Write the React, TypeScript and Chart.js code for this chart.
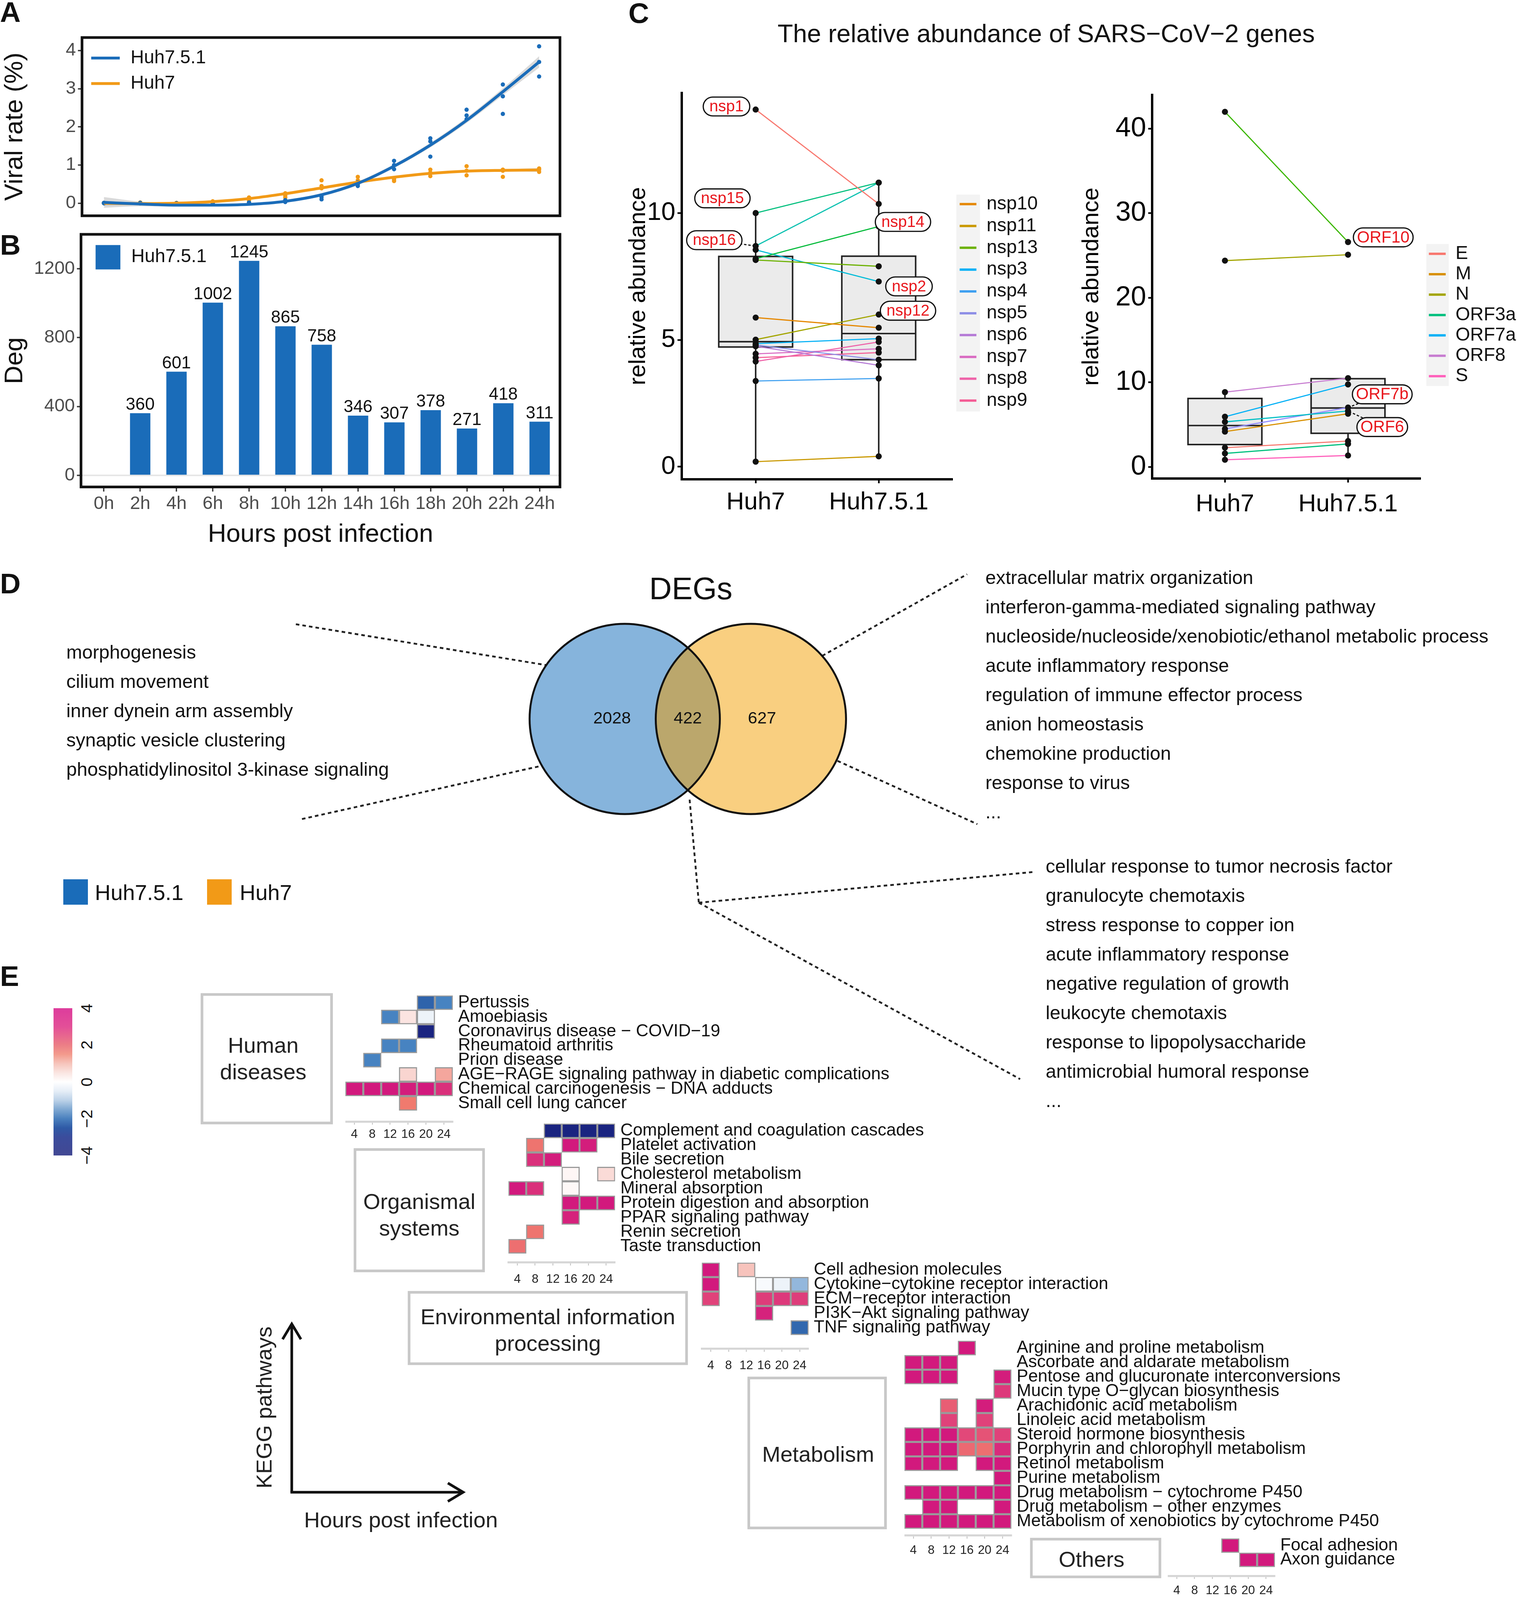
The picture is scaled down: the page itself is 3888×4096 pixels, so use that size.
import React, { useEffect, useRef } from 'react';
import { Chart, registerables } from 'chart.js';

Chart.register(...registerables);

const S = 3888 / 1489;
const d = (v: number) => v * S;
const FONT = "'Liberation Sans', Arial, Helvetica, sans-serif";
Chart.defaults.font.family = FONT;
Chart.defaults.color = '#111';

const BLUE = '#1a6cb9';
const ORANGE = '#f29a17';

// ================= Panel A data =================
const hours = [0, 2, 4, 6, 8, 10, 12, 14, 16, 18, 20, 22, 24];
const huh751Rep1 = [0.0, 0.0, 0.0, 0.0, 0.01, 0.03, 0.1, 0.45, 0.89, 1.22, 2.2, 2.34, 3.32];
const huh751Rep2 = [0.01, 0.0, 0.0, 0.0, 0.02, 0.05, 0.16, 0.5, 1.0, 1.62, 2.3, 2.8, 3.7];
const huh751Rep3 = [0.0, 0.01, 0.0, 0.01, 0.0, 0.08, 0.2, 0.55, 1.11, 1.7, 2.45, 3.11, 4.11];
const huh7Rep1 = [0.0, 0.0, 0.0, 0.03, 0.07, 0.15, 0.39, 0.5, 0.58, 0.71, 0.73, 0.69, 0.82];
const huh7Rep2 = [0.0, 0.02, 0.01, 0.02, 0.15, 0.26, 0.6, 0.69, 0.65, 0.8, 0.97, 0.88, 0.88];
const huh7Rep3 = [0.01, 0.0, 0.0, 0.05, 0.1, 0.2, 0.45, 0.6, 0.62, 0.88, 0.85, 0.85, 0.91];
const huh751Fit = [0.02, -0.02, -0.05, -0.05, -0.03, 0.05, 0.22, 0.52, 0.97, 1.52, 2.17, 2.92, 3.7];
const huh751Lo = [-0.12, -0.08, -0.09, -0.08, -0.06, 0.02, 0.18, 0.47, 0.92, 1.46, 2.1, 2.83, 3.55];
const huh751Hi = [0.16, 0.04, -0.01, -0.02, 0.0, 0.08, 0.26, 0.57, 1.02, 1.58, 2.24, 3.01, 3.85];
const huh7Fit = [0.0, -0.01, 0.0, 0.04, 0.12, 0.25, 0.4, 0.55, 0.68, 0.78, 0.84, 0.86, 0.87];
const huh7Lo = [-0.06, -0.04, -0.03, 0.01, 0.09, 0.22, 0.37, 0.52, 0.65, 0.75, 0.81, 0.83, 0.82];
const huh7Hi = [0.06, 0.02, 0.03, 0.07, 0.15, 0.28, 0.43, 0.58, 0.71, 0.81, 0.87, 0.89, 0.92];
const viralTicks = [0, 1, 2, 3, 4];

// ================= Panel B data =================
const degHours = ['0h', '2h', '4h', '6h', '8h', '10h', '12h', '14h', '16h', '18h', '20h', '22h', '24h'];
const degValues = [null, 360, 601, 1002, 1245, 865, 758, 346, 307, 378, 271, 418, 311];
const degTicks = [0, 400, 800, 1200];

// ================= Panel C data =================
const cGroups = ['Huh7', 'Huh7.5.1'];
const nspGenes = ['nsp1', 'nsp10', 'nsp11', 'nsp12', 'nsp13', 'nsp14', 'nsp15', 'nsp16', 'nsp2', 'nsp3', 'nsp4', 'nsp5', 'nsp6', 'nsp7', 'nsp8', 'nsp9'];
const nspHuh7 = [14.08, 5.88, 0.2, 5.01, 8.15, 8.2, 10.0, 8.7, 8.55, 4.85, 3.38, 4.8, 4.75, 4.45, 4.15, 4.3];
const nspHuh751 = [10.36, 5.48, 0.41, 6.0, 7.9, 9.47, 11.2, 11.2, 7.3, 5.05, 3.48, 4.22, 4.0, 4.65, 4.92, 4.5];
const nspColors = ['#F8766D', '#E58700', '#C99800', '#A3A500', '#6BB100', '#00BA38', '#00BF7D', '#00C0AF', '#00BCD8', '#00B0F6', '#3FA0F0', '#8E8FE6', '#B57AD6', '#D96BC2', '#EE62A8', '#F45C95'];
const nspLegend = ['nsp10', 'nsp11', 'nsp13', 'nsp3', 'nsp4', 'nsp5', 'nsp6', 'nsp7', 'nsp8', 'nsp9'];
const nspBoxLower = [0.2, 0.41];
const nspBoxQ1 = [4.72, 4.22];
const nspBoxMedian = [4.93, 5.25];
const nspBoxQ3 = [8.29, 8.3];
const nspBoxUpper = [10.0, 11.2];
const nspTicks = [0, 5, 10];
const nspLabelNames = ['nsp1', 'nsp15', 'nsp16', 'nsp14', 'nsp2', 'nsp12'];
const nspLabelX = [-0.237, -0.27, -0.336, 1.197, 1.246, 1.238];
const nspLabelY = [14.2, 10.58, 8.93, 9.65, 7.11, 6.15];
const nspLabelSeg = [false, false, true, false, false, false];

const orfGenes = ['E', 'M', 'N', 'ORF10', 'ORF3a', 'ORF6', 'ORF7a', 'ORF7b', 'ORF8', 'S'];
const orfHuh7 = [2.28, 4.18, 24.4, 42.0, 1.6, 5.33, 5.94, 4.5, 8.85, 0.85];
const orfHuh751 = [3.06, 6.29, 25.1, 26.6, 2.72, 6.62, 9.76, 7.03, 10.5, 1.36];
const orfColors = ['#F8766D', '#D89000', '#A3A500', '#39B600', '#00BF7D', '#00BFC4', '#00B0F6', '#9590FF', '#C77CD0', '#FF62BC'];
const orfLegend = ['E', 'M', 'N', 'ORF3a', 'ORF7a', 'ORF8', 'S'];
const orfBoxLower = [0.85, 1.36];
const orfBoxQ1 = [2.65, 3.98];
const orfBoxMedian = [4.9, 6.97];
const orfBoxQ3 = [8.1, 10.44];
const orfBoxUpper = [8.85, 10.5];
const orfTicks = [0, 10, 20, 30, 40];
const orfLabelNames = ['ORF10', 'ORF7b', 'ORF6'];
const orfLabelX = [1.286, 1.278, 1.278];
const orfLabelY = [27.15, 8.59, 4.72];
const orfLabelSeg = [false, true, true];

// ================= Panel D data =================
const vennSets = ['Huh7.5.1', 'Huh7'];
const vennCounts = [2028, 422, 627];
const goHuh751 = ['morphogenesis', 'cilium movement', 'inner dynein arm assembly', 'synaptic vesicle clustering', 'phosphatidylinositol 3-kinase signaling'];
const goHuh7 = ['extracellular matrix organization', 'interferon-gamma-mediated signaling pathway', 'nucleoside/nucleoside/xenobiotic/ethanol metabolic process', 'acute inflammatory response', 'regulation of immune effector process', 'anion homeostasis', 'chemokine production', 'response to virus', '...'];
const goShared = ['cellular response to tumor necrosis factor', 'granulocyte chemotaxis', 'stress response to copper ion', 'acute inflammatory response', 'negative regulation of growth', 'leukocyte chemotaxis', 'response to lipopolysaccharide', 'antimicrobial humoral response', '...'];

// ================= Panel E data =================
const heatTimes = ['4', '8', '12', '16', '20', '24'];
const humanRows = ['Pertussis', 'Amoebiasis', 'Coronavirus disease \u2212 COVID\u221219', 'Rheumatoid arthritis', 'Prion disease', 'AGE\u2212RAGE signaling pathway in diabetic complications', 'Chemical carcinogenesis \u2212 DNA adducts', 'Small cell lung cancer'];
const humanValues = [
  [null, null, null, null, -2.8, -2.1],
  [null, null, -2.1, 0.45, -0.3, null],
  [null, null, null, null, -4.2, null],
  [null, null, -2.1, -2.1, null, null],
  [null, -2.1, null, null, null, null],
  [null, null, null, 0.7, null, 1.4],
  [3.9, 3.9, 3.9, 3.8, 3.9, 3.4],
  [null, null, null, 2.0, null, null],
];
const organRows = ['Complement and coagulation cascades', 'Platelet activation', 'Bile secretion', 'Cholesterol metabolism', 'Mineral absorption', 'Protein digestion and absorption', 'PPAR signaling pathway', 'Renin secretion', 'Taste transduction'];
const organValues = [
  [null, null, -4.2, -4.2, -4.2, -4.2],
  [null, 2.1, null, 3.9, 3.8, null],
  [null, 3.4, 3.8, null, null, null],
  [null, null, null, 0.15, null, 0.6],
  [3.9, 3.4, null, 0.12, null, null],
  [null, null, null, 3.9, 3.9, 3.9],
  [null, null, null, 3.7, null, null],
  [null, 2.1, null, null, null, null],
  [2.2, null, null, null, null, null],
];
const envRows = ['Cell adhesion molecules', 'Cytokine\u2212cytokine receptor interaction', 'ECM\u2212receptor interaction', 'PI3K\u2212Akt signaling pathway', 'TNF signaling pathway'];
const envValues = [
  [3.9, null, 1.0, null, null, null],
  [3.9, null, null, -0.12, -0.3, -1.4],
  [3.0, null, null, 3.1, 3.2, 3.1],
  [null, null, null, 3.7, null, null],
  [null, null, null, null, null, -2.7],
];
const metabRows = ['Arginine and proline metabolism', 'Ascorbate and aldarate metabolism', 'Pentose and glucuronate interconversions', 'Mucin type O\u2212glycan biosynthesis', 'Arachidonic acid metabolism', 'Linoleic acid metabolism', 'Steroid hormone biosynthesis', 'Porphyrin and chlorophyll metabolism', 'Retinol metabolism', 'Purine metabolism', 'Drug metabolism \u2212 cytochrome P450', 'Drug metabolism \u2212 other enzymes', 'Metabolism of xenobiotics by cytochrome P450'];
const metabValues = [
  [null, null, null, 3.9, null, null],
  [3.9, 3.9, 3.9, null, null, null],
  [3.9, 3.9, 3.9, null, null, 3.8],
  [null, null, null, null, null, 3.2],
  [null, null, 2.5, null, 3.8, null],
  [null, null, 3.0, null, 3.0, null],
  [3.9, 3.9, 3.9, 2.9, 2.7, 3.0],
  [3.9, 3.9, 3.9, 2.3, 2.2, 3.5],
  [3.9, 3.9, 3.9, null, 3.9, 3.9],
  [null, null, null, null, null, 3.9],
  [3.9, 3.9, 3.9, 3.9, 3.9, 3.9],
  [null, 3.9, 3.9, null, null, 3.9],
  [3.9, 3.9, 3.9, 3.9, 3.9, 3.9],
];
const otherRows = ['Focal adhesion', 'Axon guidance'];
const otherValues = [
  [null, null, null, 3.9, null, null],
  [null, null, null, null, 3.9, 3.9],
];
const colorbarTicks = [4, 2, 0, -2, -4];

// colour scale of the heatmap cells
const heatStops = [-4, -3, -2, -1, 0, 1, 2, 3, 4];
const heatRGB = [[26, 36, 128], [40, 90, 165], [74, 136, 196], [195, 214, 236], [255, 255, 255], [247, 195, 188], [240, 122, 110], [224, 66, 122], [208, 20, 125]];
function heatColor(v: number) {
  const t = Math.max(-4, Math.min(4, v));
  let i = 0;
  while (i < heatStops.length - 2 && t > heatStops[i + 1]) i++;
  const f = (t - heatStops[i]) / (heatStops[i + 1] - heatStops[i]);
  const c = heatRGB[i].map((a, k) => Math.round(a + (heatRGB[i + 1][k] - a) * f));
  return `rgb(${c.join(',')})`;
}

// ================= helpers =================
const fixW = (px: number) => (s: any) => { s.width = px; };
const fixH = (px: number) => (s: any) => { s.height = px; };
const setTicks = (vals: number[]) => (s: any) => { s.ticks = vals.map((v) => ({ value: v })); };
const base = (extra: any) => ({
  responsive: false,
  maintainAspectRatio: false,
  animation: false,
  devicePixelRatio: 1,
  events: [],
  plugins: { legend: { display: false }, tooltip: { enabled: false }, title: { display: false } },
  ...extra,
});

function ChartBox({ x, y, w, h, make }: { x: number; y: number; w: number; h: number; make: () => any }) {
  const ref = useRef<HTMLCanvasElement | null>(null);
  useEffect(() => {
    if (!ref.current) return;
    const chart = new Chart(ref.current, make());
    return () => chart.destroy();
  }, []);
  const W = Math.round(d(w));
  const H = Math.round(d(h));
  return (
    <canvas
      ref={ref}
      width={W}
      height={H}
      style={{ position: 'absolute', left: Math.round(d(x)), top: Math.round(d(y)), width: W, height: H }}
    />
  );
}

const framePlugin = {
  id: 'frame',
  afterDraw(c: any) {
    const { left, top, right, bottom } = c.chartArea;
    const ctx = c.ctx;
    ctx.save();
    ctx.strokeStyle = '#111';
    ctx.lineWidth = d(2.6);
    ctx.strokeRect(left, top, right - left, bottom - top);
    ctx.restore();
  },
};

// ================= Panel A =================
function makeA() {
  const curve = (vals: number[]) => hours.map((h, i) => ({ x: h, y: vals[i] }));
  const pts = (reps: number[][]) => reps.flatMap((r) => hours.map((h, i) => ({ x: h, y: r[i] })));
  const none = 'rgba(0,0,0,0)';
  const band = (vals: number[], fill: any) => ({ data: curve(vals), showLine: true, borderColor: none, borderWidth: 0, pointRadius: 0, cubicInterpolationMode: 'monotone', fill, backgroundColor: 'rgba(150,150,150,0.35)' });
  const legendA = {
    id: 'legendA',
    afterDraw(c: any) {
      const ctx = c.ctx;
      const { left, top } = c.chartArea;
      const items = c.data.datasets.filter((ds: any) => ds.legend);
      ctx.save();
      items.forEach((ds: any, i: number) => {
        const y = top + d(20.1 + 25 * i);
        ctx.strokeStyle = ds.borderColor;
        ctx.lineWidth = d(2.8);
        ctx.beginPath();
        ctx.moveTo(left + d(9), y);
        ctx.lineTo(left + d(37), y);
        ctx.stroke();
        ctx.fillStyle = '#111';
        ctx.font = `${d(18.2)}px ${FONT}`;
        ctx.textBaseline = 'middle';
        ctx.textAlign = 'left';
        ctx.fillText(ds.label, left + d(47.6), y);
      });
      ctx.restore();
    },
  };
  return {
    type: 'scatter',
    data: {
      datasets: [
        { label: 'Huh7.5.1', legend: true, data: curve(huh751Fit), showLine: true, borderColor: BLUE, borderWidth: d(2.8), pointRadius: 0, cubicInterpolationMode: 'monotone' },
        { label: 'Huh7', legend: true, data: curve(huh7Fit), showLine: true, borderColor: ORANGE, borderWidth: d(2.8), pointRadius: 0, cubicInterpolationMode: 'monotone' },
        { data: pts([huh751Rep1, huh751Rep2, huh751Rep3]), pointRadius: d(2.1), pointBackgroundColor: BLUE, pointBorderWidth: 0 },
        { data: pts([huh7Rep1, huh7Rep2, huh7Rep3]), pointRadius: d(2.1), pointBackgroundColor: ORANGE, pointBorderWidth: 0 },
        band(huh751Lo, false),
        band(huh751Hi, '-1'),
        band(huh7Lo, false),
        band(huh7Hi, '-1'),
      ],
    },
    options: base({
      layout: { padding: { top: d(36.8), right: d(11), left: 0, bottom: 0 } },
      scales: {
        x: { type: 'linear', min: -1.21, max: 25.15, afterFit: fixH(d(14.4)), ticks: { display: false }, grid: { display: false }, border: { display: false } },
        y: {
          type: 'linear', min: -0.33, max: 4.34, afterFit: fixW(d(80.4)), afterBuildTicks: setTicks(viralTicks),
          ticks: { callback: (v: any) => String(v), font: { size: d(18) }, color: '#4d4d4d', padding: d(2) },
          grid: { drawOnChartArea: false, drawTicks: true, tickLength: d(4), tickColor: '#333', tickWidth: d(1.3) },
          border: { display: false },
          title: { display: true, text: 'Viral rate (%)', font: { size: d(25) }, color: '#111', padding: { top: 0, bottom: 0 } },
        },
      },
    }),
    plugins: [framePlugin, legendA],
  };
}

// ================= Panel B =================
function makeB() {
  const bars = degValues.map((v, i) => (v === null ? null : { x: i, y: v })).filter((p) => p !== null);
  const barLabels = {
    id: 'barLabels',
    afterDatasetsDraw(c: any) {
      const ctx = c.ctx;
      const meta = c.getDatasetMeta(0);
      ctx.save();
      ctx.font = `${d(17)}px ${FONT}`;
      ctx.fillStyle = '#111';
      ctx.textAlign = 'center';
      ctx.textBaseline = 'alphabetic';
      meta.data.forEach((el: any, i: number) => {
        ctx.fillText(String(c.data.datasets[0].data[i].y), el.x, el.y - d(3.5));
      });
      ctx.restore();
    },
  };
  const legendB = {
    id: 'legendB',
    afterDraw(c: any) {
      const ctx = c.ctx;
      const { left, top } = c.chartArea;
      const ds = c.data.datasets[0];
      ctx.save();
      ctx.fillStyle = ds.backgroundColor;
      ctx.fillRect(left + d(14.3), top + d(10.5), d(24.3), d(23.9));
      ctx.fillStyle = '#111';
      ctx.font = `${d(18.2)}px ${FONT}`;
      ctx.textBaseline = 'middle';
      ctx.fillText(ds.label, left + d(49.3), top + d(22.4));
      ctx.restore();
    },
  };
  return {
    type: 'bar',
    data: { datasets: [{ label: 'Huh7.5.1', data: bars, backgroundColor: BLUE, barThickness: d(19.7) }] },
    options: base({
      layout: { padding: { top: d(14.9), right: d(11), left: 0, bottom: 0 } },
      scales: {
        x: {
          type: 'linear', offset: false, min: -0.63, max: 12.56, afterFit: fixH(d(66.4)),
          afterBuildTicks: setTicks(degHours.map((_, i) => i)),
          ticks: { callback: (_v: any, i: number) => degHours[i], font: { size: d(18) }, color: '#4d4d4d', padding: d(1.3), autoSkip: false, maxRotation: 0 },
          grid: { offset: false, drawOnChartArea: false, tickLength: d(4.5), tickColor: '#333', tickWidth: d(1.3) },
          border: { display: false },
          title: { display: true, text: 'Hours post infection', font: { size: d(25) }, color: '#111', padding: { top: 0, bottom: d(4.6) } },
        },
        y: {
          type: 'linear', min: -67.5, max: 1399.6, afterFit: fixW(d(79.4)), afterBuildTicks: setTicks(degTicks),
          ticks: { callback: (v: any) => String(v), font: { size: d(18) }, color: '#4d4d4d', padding: d(2) },
          grid: { color: (ctx: any) => (ctx.tick && ctx.tick.value === 0 ? '#e6e6e6' : 'rgba(0,0,0,0)'), lineWidth: d(1.5), tickLength: d(4), tickColor: '#333', tickWidth: d(1.3) },
          border: { display: false },
          title: { display: true, text: 'Deg', font: { size: d(25) }, color: '#111', padding: { top: 0, bottom: 0 } },
        },
      },
    }),
    plugins: [framePlugin, barLabels, legendB],
  };
}

// ================= Panel C =================
function drawBubble(ctx: any, text: string, cx: number, cy: number, fontPx: number, padX: number, h: number) {
  ctx.font = `${fontPx}px ${FONT}`;
  const tw = ctx.measureText(text).width;
  const w = tw + 2 * padX;
  ctx.beginPath();
  ctx.roundRect(cx - w / 2, cy - h / 2, w, h, h / 2);
  ctx.fillStyle = '#fff';
  ctx.fill();
  ctx.lineWidth = d(1.2);
  ctx.strokeStyle = '#111';
  ctx.stroke();
  ctx.fillStyle = '#e8161c';
  ctx.textAlign = 'center';
  ctx.textBaseline = 'middle';
  ctx.fillText(text, cx, cy + d(0.5));
}

function makeC(p: any) {
  const geneLines = p.genes.map((g: string, i: number) => ({
    label: g,
    data: [{ x: 0, y: p.v0[i] }, { x: 1, y: p.v1[i] }],
    showLine: true,
    borderColor: p.colors[i],
    borderWidth: d(1.1),
    pointRadius: 0,
  }));
  const points = {
    data: p.genes.flatMap((_g: string, i: number) => [{ x: 0, y: p.v0[i] }, { x: 1, y: p.v1[i] }]),
    pointRadius: d(3),
    pointBackgroundColor: '#111',
    pointBorderWidth: 0,
  };
  const boxPlugin = {
    id: 'box',
    beforeDatasetsDraw(c: any) {
      const ctx = c.ctx;
      const xs = c.scales.x;
      const ys = c.scales.y;
      ctx.save();
      ctx.lineWidth = d(1.5);
      ctx.strokeStyle = '#222';
      for (let i = 0; i < 2; i++) {
        const cx = xs.getPixelForValue(i);
        const x0 = xs.getPixelForValue(i - 0.3);
        const x1 = xs.getPixelForValue(i + 0.3);
        const yl = ys.getPixelForValue(p.lower[i]);
        const y1 = ys.getPixelForValue(p.q1[i]);
        const ym = ys.getPixelForValue(p.med[i]);
        const y3 = ys.getPixelForValue(p.q3[i]);
        const yu = ys.getPixelForValue(p.upper[i]);
        ctx.beginPath();
        ctx.moveTo(cx, yl); ctx.lineTo(cx, y1);
        ctx.moveTo(cx, y3); ctx.lineTo(cx, yu);
        ctx.stroke();
        ctx.fillStyle = '#ebebeb';
        ctx.fillRect(x0, y3, x1 - x0, y1 - y3);
        ctx.strokeRect(x0, y3, x1 - x0, y1 - y3);
        ctx.beginPath();
        ctx.moveTo(x0, ym); ctx.lineTo(x1, ym);
        ctx.stroke();
      }
      ctx.restore();
    },
  };
  const labelPlugin = {
    id: 'labels',
    afterDatasetsDraw(c: any) {
      const ctx = c.ctx;
      const xs = c.scales.x;
      const ys = c.scales.y;
      ctx.save();
      p.labelNames.forEach((name: string, k: number) => {
        const lx = xs.getPixelForValue(p.labelX[k]);
        const ly = ys.getPixelForValue(p.labelY[k]);
        if (p.labelSeg[k]) {
          const gi = p.genes.indexOf(name);
          const grp = p.labelX[k] < 0.5 ? 0 : 1;
          const gv = grp === 0 ? p.v0[gi] : p.v1[gi];
          ctx.save();
          ctx.setLineDash([d(2.4), d(1.8)]);
          ctx.strokeStyle = '#111';
          ctx.lineWidth = d(1.1);
          ctx.beginPath();
          ctx.moveTo(lx, ly);
          ctx.lineTo(xs.getPixelForValue(grp), ys.getPixelForValue(gv));
          ctx.stroke();
          ctx.restore();
        }
        drawBubble(ctx, name, lx, ly, d(p.bubbleFont), d(p.bubblePad), d(18.5));
      });
      ctx.restore();
    },
  };
  const legendPlugin = {
    id: 'legendC',
    afterDraw(c: any) {
      const ctx = c.ctx;
      const L = p.legend;
      ctx.save();
      ctx.fillStyle = '#f3f3f3';
      ctx.fillRect(d(L.bgX0 - p.ox), d(L.bgY0 - p.oy), d(L.bgX1 - L.bgX0), d(L.bgY1 - L.bgY0));
      p.legendNames.forEach((name: string, i: number) => {
        const y = d(L.y0 + L.dy * i - p.oy);
        ctx.strokeStyle = p.colors[p.genes.indexOf(name)];
        ctx.lineWidth = d(2.3);
        ctx.beginPath();
        ctx.moveTo(d(L.segX0 - p.ox), y);
        ctx.lineTo(d(L.segX1 - p.ox), y);
        ctx.stroke();
        ctx.fillStyle = '#111';
        ctx.font = `${d(18.4)}px ${FONT}`;
        ctx.textAlign = 'left';
        ctx.textBaseline = 'middle';
        ctx.fillText(name, d(L.textX - p.ox), y);
      });
      ctx.restore();
    },
  };
  return {
    type: 'scatter',
    data: { datasets: [points, ...geneLines] },
    options: base({
      layout: { padding: { top: d(p.padTop), right: d(p.padRight), left: 0, bottom: 0 } },
      scales: {
        x: {
          type: 'linear', min: p.xMin, max: p.xMax, afterFit: fixH(d(p.xH)), afterBuildTicks: setTicks([0, 1]),
          ticks: { callback: (_v: any, i: number) => cGroups[i], font: { size: d(24) }, color: '#000', padding: d(p.xPad), autoSkip: false, maxRotation: 0 },
          grid: { drawOnChartArea: false, tickLength: d(4), tickColor: '#000', tickWidth: d(1.6) },
          border: { display: true, color: '#000', width: d(2.3) },
        },
        y: {
          type: 'linear', min: p.yMin, max: p.yMax, afterFit: fixW(d(p.yW)), afterBuildTicks: setTicks(p.ticks),
          ticks: { callback: (v: any) => String(v), font: { size: d(p.tickFont) }, color: '#000', padding: d(2) },
          grid: { drawOnChartArea: false, tickLength: d(4), tickColor: '#000', tickWidth: d(1.6) },
          border: { display: true, color: '#000', width: d(2.3) },
          title: { display: true, text: 'relative abundance', font: { size: d(23) }, color: '#000', padding: { top: d(p.titlePad), bottom: 0 } },
        },
      },
    }),
    plugins: [boxPlugin, labelPlugin, legendPlugin],
  };
}

const makeCLeft = () =>
  makeC({
    genes: nspGenes, v0: nspHuh7, v1: nspHuh751, colors: nspColors,
    lower: nspBoxLower, q1: nspBoxQ1, med: nspBoxMedian, q3: nspBoxQ3, upper: nspBoxUpper,
    labelNames: nspLabelNames, labelX: nspLabelX, labelY: nspLabelY, labelSeg: nspLabelSeg,
    legendNames: nspLegend, ticks: nspTicks, tickFont: 25,
    yMin: -0.49, yMax: 14.73, xMin: -0.602, xMax: 1.6,
    ox: 600, oy: 40, padTop: 51.4, padRight: 106.4, yW: 68, xH: 49.9, titlePad: 12, xPad: 4.5,
    bubbleFont: 15.5, bubblePad: 6,
    legend: { bgX0: 937.3, bgX1: 960.5, bgY0: 191, bgY1: 403.6, segX0: 940.6, segX1: 957, textX: 967, y0: 200.3, dy: 21.4 },
  });

const makeCRight = () =>
  makeC({
    genes: orfGenes, v0: orfHuh7, v1: orfHuh751, colors: orfColors,
    lower: orfBoxLower, q1: orfBoxQ1, med: orfBoxMedian, q3: orfBoxQ3, upper: orfBoxUpper,
    labelNames: orfLabelNames, labelX: orfLabelX, labelY: orfLabelY, labelSeg: orfLabelSeg,
    legendNames: orfLegend, ticks: orfTicks, tickFont: 27,
    yMin: -1.36, yMax: 44.0, xMin: -0.59, xMax: 1.59,
    ox: 1040, oy: 40, padTop: 53.2, padRight: 96.4, yW: 89.4, xH: 50.6, titlePad: 16.2, xPad: 7.2,
    bubbleFont: 16, bubblePad: 3.5,
    legend: { bgX0: 1398, bgX1: 1420, bgY0: 239.4, bgY1: 378.6, segX0: 1400.5, segX1: 1417, textX: 1426.6, y0: 249, dy: 20 },
  });

// ================= Panel D (Venn) =================
const VENN_C = 0.663;
const vennLabelX = [-0.796, 0, 0.78];
function makeVenn() {
  const vennPlugin = {
    id: 'venn',
    beforeDatasetsDraw(c: any) {
      const ctx = c.ctx;
      const xs = c.scales.x;
      const ys = c.scales.y;
      const cy = ys.getPixelForValue(0);
      const r = xs.getPixelForValue(1) - xs.getPixelForValue(0);
      const cx0 = xs.getPixelForValue(-VENN_C);
      const cx1 = xs.getPixelForValue(VENN_C);
      const circ = (cx: number) => { ctx.beginPath(); ctx.arc(cx, cy, r, 0, Math.PI * 2); };
      ctx.save();
      circ(cx0); ctx.fillStyle = '#86b4dc'; ctx.fill();
      circ(cx1); ctx.fillStyle = '#f9cf80'; ctx.fill();
      ctx.save();
      circ(cx0); ctx.clip();
      circ(cx1); ctx.fillStyle = '#bba76c'; ctx.fill();
      ctx.restore();
      ctx.lineWidth = d(1.9);
      ctx.strokeStyle = '#111';
      circ(cx0); ctx.stroke();
      circ(cx1); ctx.stroke();
      ctx.restore();
    },
    afterDatasetsDraw(c: any) {
      const ctx = c.ctx;
      const meta = c.getDatasetMeta(0);
      ctx.save();
      ctx.font = `${d(16.6)}px ${FONT}`;
      ctx.fillStyle = '#111';
      ctx.textAlign = 'center';
      ctx.textBaseline = 'middle';
      meta.data.forEach((el: any, i: number) => ctx.fillText(String(vennCounts[i]), el.x, el.y));
      ctx.restore();
    },
  };
  return {
    type: 'scatter',
    data: { datasets: [{ label: vennSets.join(' & '), data: vennCounts.map((_n, i) => ({ x: vennLabelX[i], y: 0 })), pointRadius: 0 }] },
    options: base({
      layout: { padding: 0 },
      scales: {
        x: { type: 'linear', min: -1.813, max: 1.813, display: false },
        y: { type: 'linear', min: -1.157, max: 1.157, display: false },
      },
    }),
    plugins: [vennPlugin],
  };
}

// ================= Panel E heatmaps =================
const TOPPAD = 17;
const heatDefs = [
  { key: 'human', rows: humanRows, values: humanValues, left: 338.6, top: 975.9, cw: 17.58, ch: 14.09, axisY: 1099.5, tickY: 1112, labelW: 450, extra: 10 },
  { key: 'organ', rows: organRows, values: organValues, left: 497.5, top: 1101.7, cw: 17.55, ch: 14.17, axisY: 1238, tickY: 1254.5, labelW: 330, extra: 10 },
  { key: 'env', rows: envRows, values: envValues, left: 687.1, top: 1238, cw: 17.58, ch: 14.18, axisY: 1322.5, tickY: 1339, labelW: 310, extra: 10 },
  { key: 'metab', rows: metabRows, values: metabValues, left: 886.4, top: 1314.5, cw: 17.5, ch: 14.17, axisY: 1505.5, tickY: 1520, labelW: 380, extra: 10 },
  { key: 'other', rows: otherRows, values: otherValues, left: 1144.7, top: 1508.3, cw: 17.5, ch: 14.0, axisY: 1545, tickY: 1559.5, labelW: 140, extra: 8 },
];

function makeHeat(h: any) {
  const n = h.rows.length;
  const cells: any[] = [];
  h.values.forEach((row: (number | null)[], i: number) =>
    row.forEach((v, j) => {
      if (v !== null) cells.push({ x: j, y: [i - 0.5, i + 0.5], v });
    })
  );
  const gap = (h.axisY - (h.top + n * h.ch)) / h.ch;
  return {
    type: 'bar',
    data: {
      datasets: [{
        data: cells,
        backgroundColor: (c: any) => heatColor(c.raw ? c.raw.v : 0),
        borderColor: '#9a9a9a',
        borderWidth: d(1.15),
        borderSkipped: false,
        barThickness: d(h.cw),
        grouped: false,
      }],
    },
    options: base({
      layout: { padding: { top: d(TOPPAD), left: 0, right: 0, bottom: 0 } },
      scales: {
        x: {
          type: 'linear', offset: false, min: -0.5, max: 5.5, afterFit: fixH(d(h.tickY - h.axisY + h.extra)),
          afterBuildTicks: setTicks(heatTimes.map((_, i) => i)),
          ticks: { callback: (_v: any, i: number) => heatTimes[i], font: { size: d(12) }, color: '#222', padding: d(h.tickY - h.axisY - 3 - 7.2), autoSkip: false, maxRotation: 0 },
          grid: { offset: false, drawOnChartArea: false, tickLength: d(3), color: '#c4c4c4', lineWidth: d(0.9) },
          border: { display: true, color: '#d6d6d6', width: d(2) },
        },
        y: {
          type: 'linear', reverse: true, min: -0.5, max: n - 0.5 + gap, position: 'right',
          afterFit: fixW(d(h.labelW)), afterBuildTicks: setTicks(h.rows.map((_: any, i: number) => i)),
          ticks: { callback: (_v: any, i: number) => h.rows[i], font: { size: d(17) }, color: '#111', padding: d(5.2), autoSkip: false },
          grid: { display: false, drawTicks: false },
          border: { display: false },
        },
      },
    }),
  };
}

// ================= text helper =================
function T({ x, y, s, children, a = 'start', rot = 0, color = '#111', bold = false }: any) {
  const tx = a === 'middle' ? '-50%' : a === 'end' ? '-100%' : '0%';
  return (
    <div
      style={{
        position: 'absolute', left: d(x), top: d(y), fontSize: d(s), lineHeight: 1, fontFamily: FONT,
        fontWeight: bold ? 700 : 400, color, whiteSpace: 'nowrap',
        transform: `translate(${tx}, -50%)` + (rot ? ` rotate(${rot}deg)` : ''), transformOrigin: '50% 50%',
      }}
    >
      {children}
    </div>
  );
}

const dottedLines = [
  [290, 612, 535, 652], [296, 803, 530, 751], [806, 643, 948, 563], [821, 746, 958, 808],
  [676, 784, 685, 885], [685, 885, 1012, 855], [685, 885, 1000, 1058],
];
const catBoxes = [
  [198, 975, 127, 126], [348, 1127, 126, 119], [401, 1267, 272, 70], [734, 1351, 134, 147], [1011, 1509, 126, 37],
];

const colorbarGradient =
  'linear-gradient(to bottom, #dd3c9c 0%, #e34f98 12.5%, #ec7e86 25%, #f39a8c 31.25%, #f6c4bb 37.5%, #fae5e1 43.75%, #ffffff 50%, #e6eef7 56.25%, #bcd2e8 62.5%, #7fa8d2 68.75%, #4a80be 75%, #2f5aa6 81.25%, #3b4c9c 87.5%, #424893 100%)';

export default function App() {
  return (
    <div style={{ position: 'absolute', left: 0, top: 0, width: 3888, height: 4096, overflow: 'hidden', background: '#fff', fontFamily: FONT }}>
      <svg width={3888} height={4096} style={{ position: 'absolute', left: 0, top: 0 }}>
        {dottedLines.map((l, i) => (
          <line key={'dl' + i} x1={d(l[0])} y1={d(l[1])} x2={d(l[2])} y2={d(l[3])} stroke="#222" strokeWidth={d(1.8)} strokeDasharray={`${d(3.5)} ${d(3)}`} />
        ))}
        {catBoxes.map((b, i) => (
          <rect key={'cb' + i} x={d(b[0])} y={d(b[1])} width={d(b[2])} height={d(b[3])} fill="none" stroke="#c8c8c8" strokeWidth={d(2.6)} />
        ))}
        <line x1={d(286)} y1={d(1463)} x2={d(286)} y2={d(1298)} stroke="#111" strokeWidth={d(2.6)} />
        <polyline points={`${d(277)},${d(1313)} ${d(286)},${d(1298)} ${d(295)},${d(1313)}`} fill="none" stroke="#111" strokeWidth={d(2.6)} />
        <line x1={d(284.7)} y1={d(1463)} x2={d(454)} y2={d(1463)} stroke="#111" strokeWidth={d(2.6)} />
        <polyline points={`${d(439)},${d(1454)} ${d(454)},${d(1463)} ${d(439)},${d(1472)}`} fill="none" stroke="#111" strokeWidth={d(2.6)} />
      </svg>

      <ChartBox x={0} y={0} w={560} h={226} make={makeA} />
      <ChartBox x={0} y={215} w={560} h={329} make={makeB} />
      <ChartBox x={600} y={40} w={440} h={480} make={makeCLeft} />
      <ChartBox x={1040} y={40} w={449} h={480} make={makeCRight} />
      <ChartBox x={505} y={597} w={338} h={215.6} make={makeVenn} />
      {heatDefs.map((h) => (
        <ChartBox
          key={h.key}
          x={h.left}
          y={h.top - TOPPAD}
          w={6 * h.cw + h.labelW}
          h={TOPPAD + (h.axisY - h.top) + (h.tickY - h.axisY + h.extra)}
          make={() => makeHeat(h)}
        />
      ))}

      {/* panel letters */}
      <T x={0} y={12} s={28} bold>A</T>
      <T x={0} y={240} s={28} bold>B</T>
      <T x={616} y={13} s={28} bold>C</T>
      <T x={0} y={572} s={28} bold>D</T>
      <T x={0} y={957} s={28} bold>E</T>

      <T x={1025.5} y={33} s={24.8} a="middle">The relative abundance of SARS{'\u2212'}CoV{'\u2212'}2 genes</T>

      {/* panel D */}
      <T x={677.2} y={577} s={30.6} a="middle">DEGs</T>
      {goHuh751.map((t, i) => <T key={'gl' + i} x={65} y={639 + 28.8 * i} s={18.6}>{t}</T>)}
      {goHuh7.map((t, i) => <T key={'gr' + i} x={966} y={566 + 28.75 * i} s={18.6}>{t}</T>)}
      {goShared.map((t, i) => <T key={'gs' + i} x={1025} y={849 + 28.75 * i} s={18.6}>{t}</T>)}
      <div style={{ position: 'absolute', left: d(62), top: d(862), width: d(24), height: d(25), background: BLUE }} />
      <T x={93} y={875} s={21.4}>{vennSets[0]}</T>
      <div style={{ position: 'absolute', left: d(203), top: d(862), width: d(24), height: d(25), background: ORANGE }} />
      <T x={235} y={875} s={21.4}>{vennSets[1]}</T>

      {/* panel E annotations */}
      <div style={{ position: 'absolute', left: d(52.5), top: d(988.5), width: d(18.3), height: d(144.5), background: colorbarGradient }} />
      {colorbarTicks.map((v, i) => (
        <T key={'cbt' + i} x={85.3} y={988.5 + (4 - v) * 18.06} s={15.8} a="middle" rot={-90}>{v < 0 ? '\u2212' + Math.abs(v) : String(v)}</T>
      ))}
      <T x={258} y={1025} s={21.5} a="middle" color="#222">Human</T>
      <T x={258} y={1051} s={21.5} a="middle" color="#222">diseases</T>
      <T x={411} y={1178} s={21.5} a="middle" color="#222">Organismal</T>
      <T x={411} y={1204} s={21.5} a="middle" color="#222">systems</T>
      <T x={537} y={1291} s={21.5} a="middle" color="#222">Environmental information</T>
      <T x={537} y={1317} s={21.5} a="middle" color="#222">processing</T>
      <T x={802} y={1426} s={21.5} a="middle" color="#222">Metabolism</T>
      <T x={1070} y={1529} s={21.5} a="middle" color="#222">Others</T>
      <T x={259} y={1380} s={21.5} a="middle" rot={-90} color="#222">KEGG pathways</T>
      <T x={393} y={1490} s={21.5} a="middle" color="#222">Hours post infection</T>
    </div>
  );
}
